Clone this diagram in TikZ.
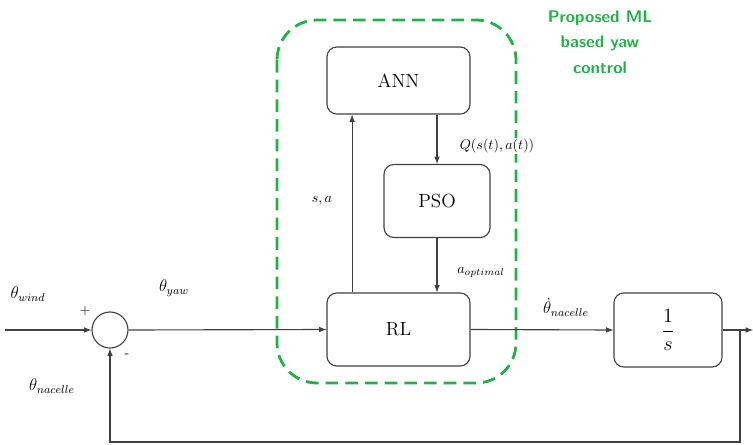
\documentclass[tikz,border=0pt]{standalone}
\usepackage{tikz}
\usetikzlibrary{calc}
\usetikzlibrary{arrows.meta}
\usepackage{amsmath}
\tikzset{>=latex}
\usepackage{xcolor}
\definecolor{mlgreen}{RGB}{32,178,72}
\colorlet{linegray}{black!75}
\tikzstyle{block}=[draw=linegray,thick,rounded corners=7pt,align=center,font=\fontsize{13.5}{16}\selectfont]
\tikzstyle{lab}=[font=\large]

\begin{document}
\begin{tikzpicture}[x=0.025cm,y=-0.025cm]
    \useasboundingbox (0,0) rectangle (753,445);

    % blocks
    \node[block,minimum width=3.575cm,minimum height=1.675cm] (ANN) at (398.5,80.5) {ANN};
    \node[block,minimum width=2.65cm,minimum height=1.825cm] (PSO) at (437,201) {PSO};
    \node[block,minimum width=3.575cm,minimum height=1.825cm] (RL) at (398.5,329.5) {RL};
    \node[block,minimum width=2.7cm,minimum height=1.85cm] (int) at (668,330) {\(\dfrac{1}{s}\)};
    \node[draw=linegray,thick,circle,minimum size=0.9cm,inner sep=0] (sum) at (110,330) {};

    \coordinate (in) at (5,330);
    \coordinate (br) at (740,330);
    \coordinate (out) at (753,330);

    % ML part
    \draw[mlgreen,line width=2pt,dash pattern=on 9pt off 5pt,rounded corners=1cm] (277,20) rectangle (516,383);
    \node[mlgreen,font=\large\bfseries\sffamily,align=center] (title) at (600,42) {Proposed ML\\[4pt] based yaw\\[4pt] control};

    % signals
    \draw[->,linegray,thick] (in) -- (sum.west);
    \draw[->,linegray,thick] (sum.east) -- (RL.west);
    \draw[->,linegray,thick] (RL.east) -- (int.west);
    \draw[->,linegray,thick] (int.east) -- (out);
    \draw[->,linegray,thick] (br) -- ++(0,112) -| (sum.south);

    \draw[->,linegray,thick] ([xshift=-1.16cm]RL.north) -- ([xshift=-1.16cm]ANN.south);
    \draw[->,linegray,thick] (ANN.south -| PSO.north) -- (PSO.north);
    \draw[->,linegray,thick] (PSO.south) -- (PSO.south |- RL.north);

    % labels
    \node[lab] (lwind) at (28,294) {\(\theta_{wind}\)};
    \node[lab] (lyaw) at (174,288) {\(\theta_{yaw}\)};
    \node[lab] (lnac) at (52,386) {\(\theta_{nacelle}\)};
    \node[lab] (ldot) at (566,307) {\(\dot{\theta}_{nacelle}\)};
    \node (plus) at (85,311) {\(+\)};
    \node (minus) at (127,356) {-};
    \node (lsa) at (322,201) {\(s,a\)};
    \node[fill=white,inner sep=1pt] (lq) at (497,146) {\(Q(s(t),a(t))\)};
    \node (lopt) at (481,272) {\(a_{optimal}\)};

\end{tikzpicture}
\end{document}
